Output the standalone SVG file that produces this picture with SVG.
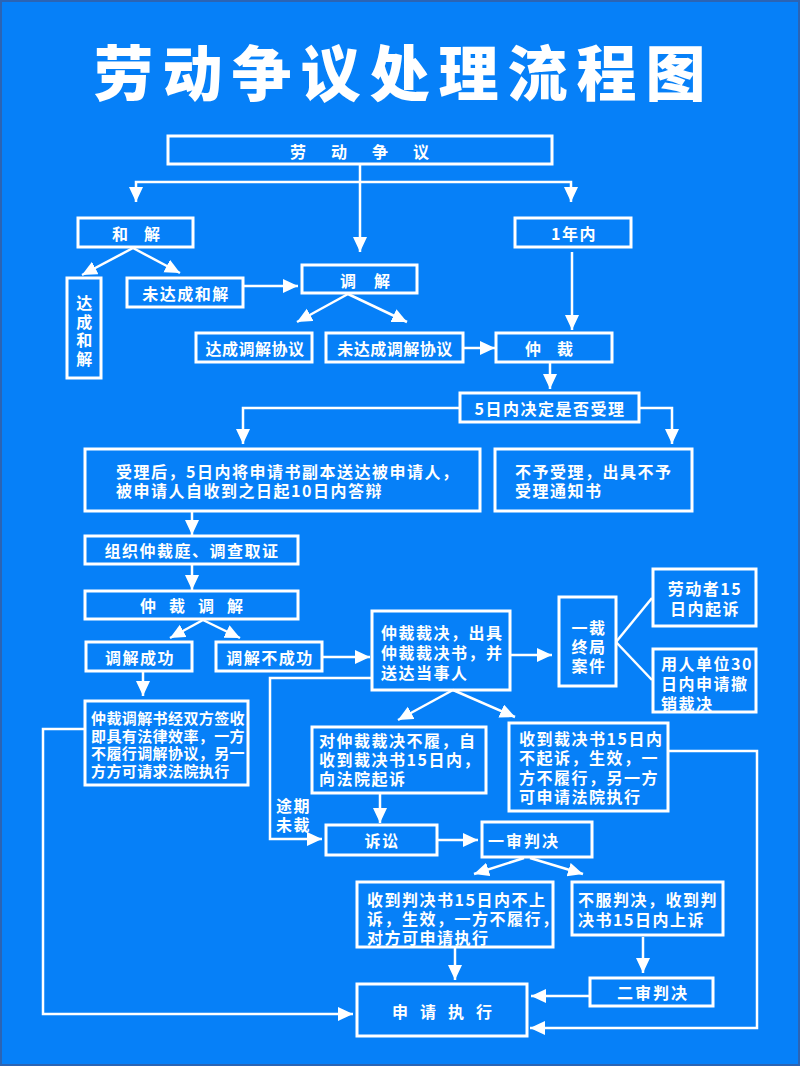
<svg xmlns="http://www.w3.org/2000/svg" width="800" height="1066" viewBox="0 0 800 1066">
<defs>
<marker id="ah" markerUnits="userSpaceOnUse" markerWidth="16" markerHeight="16" refX="15" refY="7" orient="auto">
<path d="M0,0 L15,7 L0,14 z" fill="#fff"/>
</marker>
<style>
.bx{fill:none;stroke:#fff;stroke-width:3}
.t{fill:#fff;font-family:"Noto Sans CJK SC","Noto Sans",sans-serif;font-weight:bold;font-size:16px;letter-spacing:1.5px;dominant-baseline:central}
.s{font-size:15px;letter-spacing:0.4px}
.c{text-anchor:middle}
.ln{fill:none;stroke:#fff;stroke-width:2.5}
.ar{marker-end:url(#ah)}
</style>
</defs>
<rect x="0" y="0" width="800" height="1066" fill="#0680F8"/>
<rect x="1" y="1" width="798" height="1064" fill="none" stroke="#2B64B4" stroke-width="2"/>
<text x="404" y="69" fill="#fff" font-family="'Noto Sans CJK SC',sans-serif" font-weight="900" font-size="60" letter-spacing="9" text-anchor="middle" dominant-baseline="central">劳动争议处理流程图</text>

<g id="connectors">
<path class="ln ar" d="M360,164 V252"/>
<path class="ln ar" d="M360,182 H136 V202"/>
<path class="ln ar" d="M360,182 H571 V202"/>
<path class="ln ar" d="M133,248 L82,275"/>
<path class="ln ar" d="M133,248 L180,273"/>
<path class="ln ar" d="M243,286 H298"/>
<path class="ln ar" d="M348,294 L297,322"/>
<path class="ln ar" d="M348,294 L407,322"/>
<path class="ln ar" d="M463,348 H495"/>
<path class="ln ar" d="M572,252 V330"/>
<path class="ln ar" d="M550,362 V389"/>
<path class="ln ar" d="M460,408 H243 V444"/>
<path class="ln ar" d="M639,408 H672 V444"/>
<path class="ln ar" d="M192,511 V535"/>
<path class="ln ar" d="M192,564 V590"/>
<path class="ln ar" d="M203,620 L170,638"/>
<path class="ln ar" d="M203,620 L240,638"/>
<path class="ln ar" d="M322,657 H370"/>
<path class="ln ar" d="M510,655 H552"/>
<path class="ln" d="M616,642 L652,598"/>
<path class="ln" d="M616,642 L652,680"/>
<path class="ln ar" d="M453,690 L398,720"/>
<path class="ln ar" d="M453,690 L515,717"/>
<path class="ln ar" d="M372,678 H270 V839 H322"/>
<path class="ln ar" d="M380,793 V823"/>
<path class="ln ar" d="M437,840 H478"/>
<path class="ln ar" d="M668,751 H757 V1028 H530"/>
<path class="ln ar" d="M524,858 L474,874"/>
<path class="ln ar" d="M530,858 L583,874"/>
<path class="ln ar" d="M455,947 V980"/>
<path class="ln ar" d="M643,937 V973"/>
<path class="ln ar" d="M590,996 H531"/>
<path class="ln ar" d="M143,671 V696"/>
<path class="ln ar" d="M85,729 H43 V1014 H353"/>
<text class="t" x="276" y="805">途期<tspan x="276" dy="19">未裁</tspan></text>
</g>

<g id="n-ldzy"><rect class="bx" x="168" y="136" width="384" height="28"/><text class="t" x="290" y="151" style="letter-spacing:25px">劳动争议</text></g>
<g id="n-hj"><rect class="bx" x="78" y="218" width="115" height="29"/><text class="t" x="112" y="233" style="letter-spacing:16px">和解</text></g>
<g id="n-1nn"><rect class="bx" x="515" y="218" width="116" height="29"/><text class="t c" x="574" y="233">1年内</text></g>
<g id="n-dchj"><rect class="bx" x="67" y="278" width="34" height="100"/>
<text class="t c" x="85" y="302">达<tspan x="85" dy="19">成</tspan><tspan x="85" dy="18">和</tspan><tspan x="85" dy="19">解</tspan></text></g>
<g id="n-wdchj"><rect class="bx" x="127" y="278" width="116" height="29"/><text class="t c" x="186" y="293">未达成和解</text></g>
<g id="n-tj"><rect class="bx" x="302" y="265" width="115" height="28"/><text class="t" x="340" y="280" style="letter-spacing:18px">调解</text></g>
<g id="n-dctjxy"><rect class="bx" x="196" y="333" width="116" height="29"/><text class="t c" x="255" y="348" style="letter-spacing:0.5px">达成调解协议</text></g>
<g id="n-wdctjxy"><rect class="bx" x="326" y="333" width="137" height="29"/><text class="t c" x="395" y="348" style="letter-spacing:0.5px">未达成调解协议</text></g>
<g id="n-zc"><rect class="bx" x="496" y="333" width="116" height="29"/><text class="t" x="525" y="348" style="letter-spacing:16px">仲裁</text></g>
<g id="n-5r"><rect class="bx" x="460" y="393" width="179" height="29"/><text class="t c" x="550" y="408">5日内决定是否受理</text></g>
<g id="n-slh"><rect class="bx" x="85" y="449" width="395" height="62"/><text class="t" x="116" y="471">受理后，5日内将申请书副本送达被申请人，<tspan x="116" dy="19">被申请人自收到之日起10日内答辩</tspan></text></g>
<g id="n-bysl"><rect class="bx" x="495" y="449" width="197" height="62"/><text class="t" x="515" y="471">不予受理，出具不予<tspan x="515" dy="19">受理通知书</tspan></text></g>
<g id="n-zzzct"><rect class="bx" x="85" y="536" width="213" height="28"/><text class="t c" x="192" y="550">组织仲裁庭、调查取证</text></g>
<g id="n-zctj"><rect class="bx" x="85" y="591" width="213" height="28"/><text class="t" x="140" y="605" style="letter-spacing:13px">仲裁调解</text></g>
<g id="n-tjcg"><rect class="bx" x="86" y="642" width="106" height="29"/><text class="t c" x="140" y="657">调解成功</text></g>
<g id="n-tjbcg"><rect class="bx" x="216" y="642" width="106" height="29"/><text class="t c" x="270" y="657">调解不成功</text></g>
<g id="n-zccj"><rect class="bx" x="372" y="611" width="138" height="79"/><text class="t" x="381" y="632">仲裁裁决，出具<tspan x="381" dy="20">仲裁裁决书，并</tspan><tspan x="381" dy="20">送达当事人</tspan></text></g>
<g id="n-ycz"><rect class="bx" x="559" y="597" width="57" height="89"/><text class="t c" x="589" y="627">一裁<tspan x="589" dy="19">终局</tspan><tspan x="589" dy="19">案件</tspan></text></g>
<g id="n-ldz"><rect class="bx" x="653" y="569" width="103" height="57"/><text class="t c" x="705" y="588">劳动者15<tspan x="705" dy="20">日内起诉</tspan></text></g>
<g id="n-yrdw"><rect class="bx" x="653" y="649" width="103" height="63"/><text class="t" x="661" y="663">用人单位30<tspan x="661" dy="20">日内申请撤</tspan><tspan x="661" dy="20">销裁决</tspan></text></g>
<g id="n-zctjs"><rect class="bx" x="85" y="701" width="163" height="84"/><text class="t s" x="91" y="717">仲裁调解书经双方签收<tspan x="91" dy="18">即具有法律效率，一方</tspan><tspan x="91" dy="17">不履行调解协议，另一</tspan><tspan x="91" dy="18">方方可请求法院执行</tspan></text></g>
<g id="n-dzccj"><rect class="bx" x="312" y="727" width="174" height="66"/><text class="t" x="319" y="740">对仲裁裁决不履，自<tspan x="319" dy="19">收到裁决书15日内，</tspan><tspan x="319" dy="19">向法院起诉</tspan></text></g>
<g id="n-sdcjs"><rect class="bx" x="509" y="723" width="159" height="88"/><text class="t" x="519" y="738">收到裁决书15日内<tspan x="519" dy="19">不起诉，生效，一</tspan><tspan x="519" dy="20">方不履行，另一方</tspan><tspan x="519" dy="19">可申请法院执行</tspan></text></g>
<g id="n-ss"><rect class="bx" x="326" y="825" width="111" height="30"/><text class="t c" x="382" y="840">诉讼</text></g>
<g id="n-yspj"><rect class="bx" x="482" y="822" width="110" height="35"/><text class="t" x="488" y="840" style="letter-spacing:2px">一审判决</text></g>
<g id="n-sdpjs"><rect class="bx" x="357" y="882" width="196" height="65"/><text class="t" x="367" y="899">收到判决书15日内不上<tspan x="367" dy="19">诉，生效，一方不履行，</tspan><tspan x="367" dy="19">对方可申请执行</tspan></text></g>
<g id="n-bfpj"><rect class="bx" x="572" y="882" width="151" height="53"/><text class="t" x="578" y="899">不服判决，收到判<tspan x="578" dy="20">决书15日内上诉</tspan></text></g>
<g id="n-espj"><rect class="bx" x="590" y="978" width="123" height="28"/><text class="t c" x="653" y="992" style="letter-spacing:2px">二审判决</text></g>
<g id="n-sqzx"><rect class="bx" x="357" y="984" width="170" height="52"/><text class="t" x="392" y="1011" style="letter-spacing:12px">申请执行</text></g>
</svg>
